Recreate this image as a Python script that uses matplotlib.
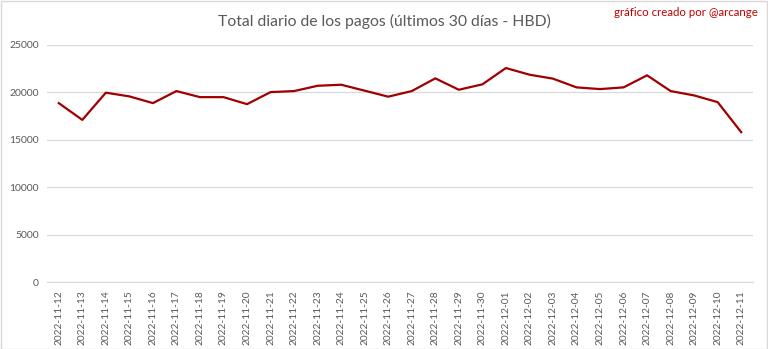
import numpy as np
import matplotlib
matplotlib.use('Agg')
import matplotlib.pyplot as plt
from matplotlib.patches import Rectangle

plt.rcParams['font.family'] = ['Lato', 'DejaVu Sans']

# datos
dates = ['2022-11-12', '2022-11-13', '2022-11-14', '2022-11-15', '2022-11-16',
         '2022-11-17', '2022-11-18', '2022-11-19', '2022-11-20', '2022-11-21',
         '2022-11-22', '2022-11-23', '2022-11-24', '2022-11-25', '2022-11-26',
         '2022-11-27', '2022-11-28', '2022-11-29', '2022-11-30', '2022-12-01',
         '2022-12-02', '2022-12-03', '2022-12-04', '2022-12-05', '2022-12-06',
         '2022-12-07', '2022-12-08', '2022-12-09', '2022-12-10', '2022-12-11']
hbd = [18870, 17100, 19970, 19580, 18870, 20140, 19500, 19500, 18760, 20030,
       20140, 20700, 20810, 20180, 19550, 20140, 21480, 20280, 20850, 22570,
       21870, 21450, 20530, 20350, 20530, 21800, 20140, 19680, 18970, 15800]
yticks = [0, 5000, 10000, 15000, 20000, 25000]

GRAY = '#595959'
fig = plt.figure(figsize=(7.68, 3.49), dpi=100)
ax = fig.add_axes([47 / 768, 1 - 282 / 349, 706 / 768, 237 / 349])

x = np.arange(len(dates))
ax.plot(x, hbd, color='#a00000', lw=1.6, solid_joinstyle='round')
ax.set_xlim(-0.5, len(dates) - 0.5)
ax.set_ylim(0, 25000)
ax.set_yticks(yticks)
ax.set_yticklabels([str(v) for v in yticks], color=GRAY, fontsize=7.5)
ax.set_xticks(x)
ax.set_xticklabels(dates, rotation=90, color=GRAY, fontsize=7.3)
ax.tick_params(length=0, pad=6)
ax.grid(True, axis='y', color='#d9d9d9', lw=0.9)
ax.set_axisbelow(True)
for s in ('top', 'right', 'left'):
    ax.spines[s].set_visible(False)
ax.spines['bottom'].set_color('#d9d9d9')

fig.text(0.5, 1 - 21 / 349, 'Total diario de los pagos (últimos 30 días - HBD)',
         ha='center', va='center', fontsize=11.3, color=GRAY)
fig.text(758 / 768, 1 - 13 / 349, 'gráfico creado por @arcange',
         ha='right', va='center', fontsize=8.3, color='#c00000')
fig.patches.append(Rectangle((0.5 / 768, 0.5 / 349), 766.5 / 768, 347.5 / 349,
                             transform=fig.transFigure, fill=False,
                             edgecolor='#d9d9d9', lw=1))

fig.savefig('out.png', dpi=100)
